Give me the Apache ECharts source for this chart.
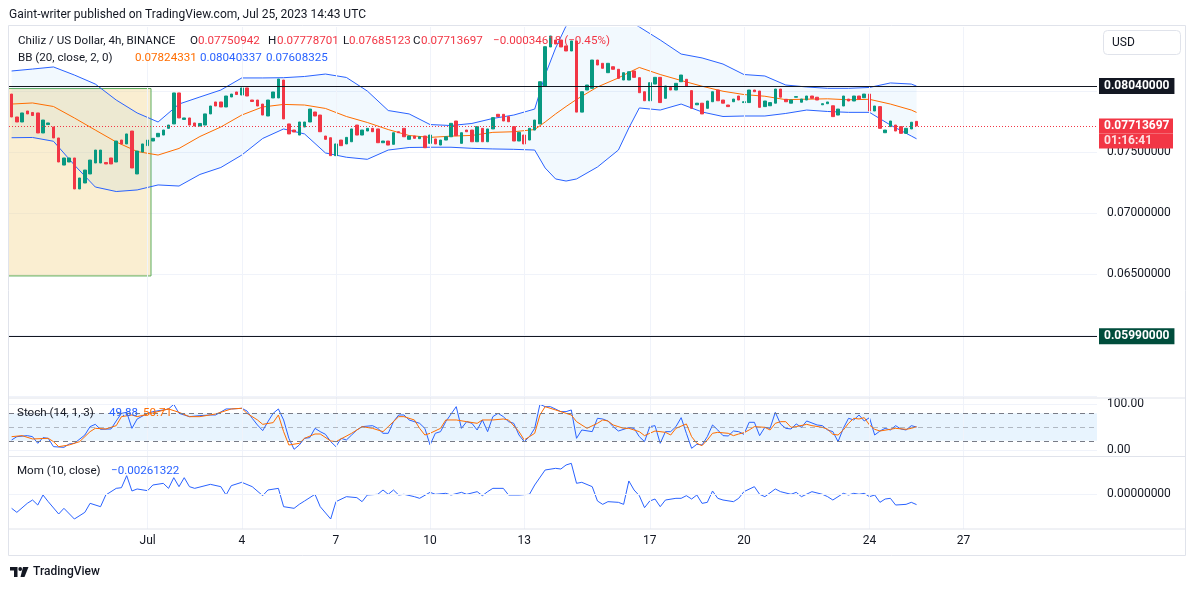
<!DOCTYPE html>
<html>
<head>
<meta charset="utf-8">
<title>CHZUSD 4h</title>
<script src="https://cdn.jsdelivr.net/npm/echarts@6/dist/echarts.min.js"></script>
<style>
  html, body { margin: 0; padding: 0; background: #fff; }
  #chart { width: 1195px; height: 589px; }
</style>
</head>
<body>
<div id="chart"></div>
<script>
// 4h candles, index 0 = Jun 26 16:00 UTC, last (173) = Jul 25 12:00
const candleOpen = [
  0.07975, 0.07787, 0.07746, 0.07836, 0.07824, 0.07820, 0.07656, 0.07725, 0.07705, 0.07615,
  0.07393, 0.07418, 0.07451, 0.07197, 0.07246, 0.07320, 0.07410, 0.07410, 0.07414, 0.07451,
  0.07418, 0.07598, 0.07566, 0.07672, 0.07320, 0.07500, 0.07552, 0.07590, 0.07625, 0.07639,
  0.07694, 0.07730, 0.07984, 0.07767, 0.07779, 0.07738, 0.07713, 0.07721, 0.07812, 0.07910,
  0.07910, 0.07869, 0.07951, 0.07992, 0.07967, 0.08025, 0.07926, 0.07926, 0.07893, 0.07795,
  0.07943, 0.07943, 0.08090, 0.07730, 0.07680, 0.07639, 0.07705, 0.07746, 0.07828, 0.07803,
  0.07631, 0.07617, 0.07470, 0.07598, 0.07566, 0.07584, 0.07721, 0.07639, 0.07672, 0.07694,
  0.07689, 0.07576, 0.07590, 0.07563, 0.07666, 0.07694, 0.07604, 0.07631, 0.07609, 0.07631,
  0.07571, 0.07607, 0.07557, 0.07598, 0.07625, 0.07754, 0.07571, 0.07680, 0.07680, 0.07584,
  0.07694, 0.07584, 0.07689, 0.07809, 0.07809, 0.07790, 0.07708, 0.07590, 0.07639, 0.07598,
  0.07680, 0.07730, 0.08041, 0.08361, 0.08418, 0.08418, 0.08369, 0.08328, 0.08410, 0.07827,
  0.08008, 0.08022, 0.08254, 0.08227, 0.08150, 0.08199, 0.08178, 0.08090, 0.08090, 0.08164,
  0.08109, 0.07994, 0.07920, 0.08057, 0.08112, 0.07940, 0.08030, 0.08008, 0.08076, 0.08096,
  0.08003, 0.07887, 0.07900, 0.07858, 0.07912, 0.08008, 0.07926, 0.07885, 0.07912, 0.07959,
  0.07905, 0.07905, 0.08008, 0.08000, 0.07872, 0.07879, 0.07900, 0.08016, 0.07932, 0.07900,
  0.07949, 0.07908, 0.07926, 0.07959, 0.07949, 0.07887, 0.07896, 0.07879, 0.07803, 0.07877,
  0.07934, 0.07918, 0.07959, 0.07945, 0.07975, 0.07836, 0.07872, 0.07658, 0.07708, 0.07721,
  0.07708, 0.07653, 0.07689, 0.07750942
];
const candleClose = [
  0.07787, 0.07746, 0.07820, 0.07812, 0.07799, 0.07656, 0.07762, 0.07738, 0.07615, 0.07418,
  0.07451, 0.07451, 0.07197, 0.07287, 0.07352, 0.07434, 0.07516, 0.07516, 0.07402, 0.07402,
  0.07590, 0.07566, 0.07648, 0.07369, 0.07508, 0.07566, 0.07598, 0.07612, 0.07653, 0.07680,
  0.07721, 0.07984, 0.07779, 0.07779, 0.07721, 0.07713, 0.07734, 0.07812, 0.07877, 0.07877,
  0.07869, 0.07959, 0.07975, 0.07971, 0.08025, 0.07959, 0.07914, 0.07877, 0.07803, 0.07926,
  0.07992, 0.08098, 0.07771, 0.07648, 0.07664, 0.07746, 0.07746, 0.07852, 0.07795, 0.07666,
  0.07604, 0.07470, 0.07566, 0.07552, 0.07620, 0.07689, 0.07639, 0.07680, 0.07694, 0.07666,
  0.07576, 0.07590, 0.07557, 0.07658, 0.07658, 0.07625, 0.07631, 0.07612, 0.07625, 0.07535,
  0.07639, 0.07566, 0.07598, 0.07625, 0.07735, 0.07634, 0.07658, 0.07666, 0.07584, 0.07708,
  0.07584, 0.07689, 0.07782, 0.07790, 0.07754, 0.07748, 0.07590, 0.07661, 0.07566, 0.07694,
  0.07762, 0.08076, 0.08363, 0.08451, 0.08385, 0.08361, 0.08328, 0.08410, 0.07827, 0.07994,
  0.08049, 0.08254, 0.08213, 0.08186, 0.08227, 0.08178, 0.08104, 0.08150, 0.08158, 0.08112,
  0.07986, 0.07920, 0.08068, 0.08112, 0.07905, 0.08041, 0.08008, 0.08063, 0.08131, 0.08041,
  0.07858, 0.07900, 0.07812, 0.07918, 0.07994, 0.07920, 0.07900, 0.07872, 0.07934, 0.07926,
  0.07912, 0.08008, 0.07994, 0.07866, 0.07918, 0.07905, 0.08016, 0.07949, 0.07912, 0.07926,
  0.07954, 0.07934, 0.07959, 0.07940, 0.07926, 0.07896, 0.07910, 0.07790, 0.07852, 0.07959,
  0.07918, 0.07959, 0.07934, 0.07975, 0.07836, 0.07877, 0.07694, 0.07680, 0.07754, 0.07672,
  0.07653, 0.07694, 0.07744, 0.07713697
];

// Bollinger bands (20, 2) read at these candle indices
const bbIdx = [0, 4, 8, 12, 16, 20, 24, 28, 32, 36, 40, 44, 48, 52, 56, 60, 64, 68, 72, 76,
  80, 84, 88, 92, 96, 100, 102, 104, 106, 108, 112, 116, 118, 120, 124, 128, 132, 136, 140, 144,
  148, 152, 156, 160, 164, 168, 172, 173];
const bbUpper = [0.08164, 0.08180, 0.08197, 0.08131, 0.08057, 0.07926, 0.07820, 0.07746, 0.07893, 0.07951,
  0.08008, 0.08107, 0.08107, 0.08109, 0.08119, 0.08139, 0.08111, 0.08000, 0.07840, 0.07812,
  0.07725, 0.07717, 0.07734, 0.07775, 0.07803, 0.07852, 0.08131, 0.08352, 0.08533, 0.08570,
  0.08600, 0.08580, 0.08570, 0.08525, 0.08418, 0.08303, 0.08271, 0.08221, 0.08135, 0.08123,
  0.08049, 0.08033, 0.08022, 0.08022, 0.08029, 0.08066, 0.08057, 0.08040337];
const bbMiddle = [0.07893, 0.07902, 0.07873, 0.07779, 0.07680, 0.07582, 0.07504, 0.07475, 0.07529, 0.07627,
  0.07705, 0.07803, 0.07869, 0.07890, 0.07885, 0.07857, 0.07791, 0.07742, 0.07684, 0.07635,
  0.07620, 0.07630, 0.07636, 0.07661, 0.07666, 0.07684, 0.07746, 0.07812, 0.07873, 0.07931,
  0.08033, 0.08107, 0.08152, 0.08193, 0.08135, 0.08086, 0.08039, 0.07998, 0.07971, 0.07957,
  0.07929, 0.07933, 0.07936, 0.07928, 0.07932, 0.07893, 0.07844, 0.07824331];
const bbLower = [0.07617, 0.07619, 0.07588, 0.07393, 0.07213, 0.07176, 0.07189, 0.07230, 0.07221, 0.07316,
  0.07373, 0.07475, 0.07611, 0.07689, 0.07648, 0.07492, 0.07457, 0.07440, 0.07516, 0.07537,
  0.07539, 0.07539, 0.07530, 0.07525, 0.07522, 0.07516, 0.07369, 0.07279, 0.07262, 0.07279,
  0.07377, 0.07516, 0.07697, 0.07861, 0.07844, 0.07893, 0.07828, 0.07791, 0.07795, 0.07795,
  0.07816, 0.07844, 0.07832, 0.07825, 0.07825, 0.07721, 0.07631, 0.07608325];

// Stoch (14, 1, 3): [candle index, value]
const stochK = [[0,21.8],[1,29],[3,31.2],[4,29],[5,14.5],[6,26.9],[7,25.4],[8,7.3],[10,5.8],[11,13.1],
  [12,14.5],[14,32.6],[15,50.8],[16,55.8],[17,45],[19,45.7],[20,63.1],[21,79.7],[22,81.9],[23,47.1],
  [24,67.4],[26,79.7],[27,83.4],[29,87],[30,89.2],[31,99.3],[32,79.7],[33,76.1],[34,72.5],[36,74.7],
  [38,76.1],[39,76.1],[41,89.2],[42,89.2],[44,90.6],[45,84.8],[46,68.9],[47,54.4],[48,42.1],[49,61.6],
  [50,79.7],[51,89.2],[52,65.3],[53,25.4],[54,1.5],[55,10.9],[56,25.4],[57,26.9],[58,47.1],[59,39.9],
  [60,34.1],[61,18.2],[62,7.3],[63,25.4],[64,21.8],[65,32.6],[66,43.5],[67,50.8],[69,52.9],[70,47.1],
  [71,36.3],[72,36.3],[73,61.6],[74,76.1],[75,76.1],[76,65.3],[78,58],[79,47.1],[80,10.9],[81,36.3],
  [82,39.9],[83,61.6],[85,94.2],[86,47.1],[87,61.6],[88,58],[89,43.5],[90,65.3],[91,39.9],[92,72.5],
  [93,79.7],[94,72.5],[95,61.6],[96,58],[97,32.6],[98,18.2],[99,29],[100,47.1],[101,99.3],[102,94.2],
  [103,94.2],[105,83.4],[106,83.4],[107,87],[108,25.4],[109,43.5],[111,39.9],[112,68.9],[113,67.4],[114,63.1],
  [115,50.8],[116,41.3],[118,48.6],[119,47.1],[120,29],[121,18.2],[122,50.8],[123,52.9],[124,14.5],[125,39.9],
  [126,39.9],[127,50.8],[128,70.3],[129,36.3],[130,3.7],[131,12.4],[132,10.9],[133,29],[134,54.4],[135,43.5],
  [136,31.2],[137,30.5],[138,41.3],[139,39.9],[140,34.1],[141,60.2],[142,60.2],[143,31.2],[144,49.3],[145,47.1],
  [146,81.9],[147,56.6],[148,47.1],[149,45.7],[150,56.6],[151,49.3],[152,63.1],[154,54.4],[155,52.9],[156,43.5],
  [157,39.9],[158,18.2],[159,47.1],[160,68.9],[161,65.3],[162,76.1],[163,63.1],[164,70.3],[165,32.6],[166,41.3],
  [167,47.1],[168,43.5],[169,52.9],[170,45.7],[171,43.5],[172,52.9],[173,49.88]];
const stochD = [[0,29],[2,31.2],[4,24],[7,25.4],[8,18.2],[9,7.3],[11,10.9],[13,18.2],[15,39.9],[16,47.1],
  [18,45.7],[20,52.9],[21,72.5],[23,76.1],[24,72.5],[26,77.6],[28,83.4],[30,89.2],[32,81.9],[34,72.5],
  [36,72.5],[39,78.3],[42,89.2],[44,90.6],[45,79.7],[47,65.3],[48,55.8],[50,59.5],[51,76.1],[52,39.9],
  [53,10.9],[55,14.5],[56,25.4],[58,34.8],[59,34.8],[61,19.6],[62,18.2],[65,36.3],[67,50.8],[69,47.1],
  [71,39.9],[72,50.8],[74,72.5],[75,72.5],[77,65.3],[78,47.1],[79,32.6],[80,36.3],[82,47.1],[83,65.3],
  [85,65.3],[87,61.6],[89,58],[90,65.3],[92,65.3],[94,67.4],[95,65.3],[97,39.9],[98,21.8],[100,36.3],
  [101,76.1],[102,94.2],[104,87],[106,79.7],[107,76.1],[108,61.6],[110,47.1],[112,58],[113,65.3],[114,63.1],
  [115,54.4],[117,47.1],[118,47.1],[120,39.9],[121,31.2],[122,36.3],[123,41.3],[125,38.4],[126,32.6],[127,47.1],
  [129,56.6],[130,29],[131,14.5],[132,9.5],[133,21.8],[134,36.3],[135,38.4],[137,36.3],[138,31.2],[139,34.8],
  [140,37.7],[141,43.5],[142,50.8],[144,49.3],[145,43.5],[146,58],[147,61.6],[148,61.6],[149,49.3],[150,50.8],
  [152,55.8],[153,52.9],[155,49.3],[156,45],[157,34.1],[158,32.6],[159,43.5],[160,58],[161,68.9],[162,67.4],
  [163,70.3],[164,54.4],[165,45],[166,41.3],[168,45],[169,47.1],[171,45],[172,47.1],[173,50.71]];

// Mom (10, close): [candle index, value]
const momVals = [[0,-0.00356],[1,-0.00458],[3,-0.00229],[4,-0.00145],[5,-0.00272],[6,-0.00018],[7,-0.00187],
  [9,-0.00500],[10,-0.00356],[12,-0.00627],[14,-0.00458],[15,-0.00229],[17,-0.00314],[18,-0.00018],[20,0.00151],
  [21,0.00168],[22,0.00473],[23,0.00084],[24,0.00135],[26,0.00092],[27,0.00236],[29,0.00278],[30,0.00151],
  [31,0.00422],[32,0.00194],[33,0.00422],[34,0.00194],[35,0.00151],[38,0.00253],[40,0.00194],[41,-0.00018],
  [42,0.00219],[44,0.00304],[46,0.00194],[48,-0.00035],[49,0.00109],[51,0.00151],[52,-0.00314],[54,-0.00356],
  [55,-0.00254],[56,-0.00170],[58,0],[59,-0.00314],[61,-0.00627],[62,-0.00187],[64,-0.00060],[66,-0.00085],
  [67,-0.00187],[68,-0.00018],[70,0],[71,0.00109],[72,0],[73,0.00109],[74,-0.00018],[75,0],[77,-0.00060],
  [78,-0.00102],[80,0.00050],[81,0],[83,0.00025],[84,-0.00018],[86,0.00050],[87,0],[89,0.00067],[90,-0.00035],
  [91,0.00067],[92,0.00151],[94,0.00151],[95,-0.00018],[97,-0.00018],[99,0],[100,0.00236],[102,0.00617],
  [104,0.00659],[105,0.00642],[106,0.00744],[107,0.00786],[108,0.00279],[109,0.00304],[111,0.00194],[112,-0.00170],
  [113,-0.00255],[114,-0.00187],[116,-0.00204],[117,-0.00255],[118,0.00338],[119,0.00109],[120,-0.00035],
  [121,-0.00339],[122,-0.00170],[123,-0.00120],[124,-0.00314],[125,-0.00145],[127,-0.00102],[128,-0.00102],
  [129,-0.00035],[130,-0.00120],[131,-0.00018],[132,-0.00230],[133,-0.00204],[134,0.00084],[135,-0.00102],
  [136,-0.00145],[138,-0.00187],[139,-0.00102],[140,0.00067],[142,0.00194],[143,0],[144,-0.00060],[146,0.00135],
  [147,0.00067],[149,0],[150,0.00050],[151,-0.00060],[153,0.00067],[155,0],[156,-0.00060],[157,-0.00145],
  [159,0.00025],[160,-0.00018],[161,0.00025],[162,0],[163,0.00025],[164,-0.00060],[165,-0.00018],[166,-0.00204],
  [167,-0.00120],[168,-0.00102],[169,-0.00272],[171,-0.00255],[172,-0.00204],[173,-0.00261322]];

// drawn levels and the highlighted zone: [left idx, top price, right idx, bottom price]
const levelHigh = 0.0804;
const levelLow = 0.0599;
const lastClose = 0.07713697;
const zoneBox = [-1, 0.0802, 26.65, 0.06484];

// time axis ticks (candle index of each day start) and price labels
const dateTickIdx = [26, 44, 62, 80, 98, 122, 140, 164, 182];
const dateTickLabels = ['Jul', '4', '7', '10', '13', '17', '20', '24', '27'];
const priceTickLabels = ['0.07500000', '0.07000000', '0.06500000'];
const stochTicks = [0, 100];
const momTicks = [0];

const SLOTS = 208;
const FONT = 'Roboto, "Noto Sans", sans-serif';
const LEGEND_FONT = '11.6px ' + FONT;
const TXT = '#131722';
const BLUE = '#2962ff';
const ORANGE = '#ff6d00';
const UP = '#089981';
const DOWN = '#f23645';
const GRID = '#f0f3fa';
const BORDER = '#e0e3eb';

const candles = candleOpen.map((o, i) => {
  const c = candleClose[i];
  return [i, o, c, Math.min(o, c), Math.max(o, c)];
});
const pairs = (idx, vals) => idx.map((x, k) => [x, vals[k]]);
const dateLines = dateTickIdx.map(v => ({ xAxis: v }));

const xBase = { type: 'value', min: -0.5, max: SLOTS - 0.5 };
const noAxisParts = { axisLine: { show: false }, axisTick: { show: false }, splitLine: { show: false } };
const labelBase = { color: TXT, fontSize: 12, fontFamily: FONT, margin: 10 };
const tagLabel = {
  show: true, position: 'end', distance: 2, color: '#fff', fontFamily: FONT,
  fontSize: 12, fontWeight: 'bold', padding: [1, 5], lineHeight: 14
};

function txt(x, y, text, fill, font) {
  return { type: 'text', x: x, y: y, silent: true, z: 100,
    style: { text: text, fill: fill, font: font || ('12px ' + FONT), verticalAlign: 'middle' } };
}
function hline(y, x1, x2) {
  return { type: 'line', silent: true, z: 100, shape: { x1: x1, y1: y, x2: x2, y2: y },
    style: { stroke: BORDER, lineWidth: 1 } };
}
// one horizontal price level with its tag on the price scale
function levelLine(name, value, lineStyle, label) {
  return {
    type: 'line', name: name, xAxisIndex: 0, yAxisIndex: 0, z: 4, silent: true,
    data: [], showSymbol: false,
    markLine: {
      silent: true, symbol: ['none', 'none'], animation: false, precision: 10,
      lineStyle: lineStyle,
      label: Object.assign({}, tagLabel, label),
      data: [{ yAxis: value }]
    }
  };
}

const chart = echarts.init(document.getElementById('chart'));

const option = {
  animation: false,
  backgroundColor: '#ffffff',
  grid: [
    { left: 9, width: 1088, top: 27, height: 430, outerBoundsMode: 'none' },
    { left: 9, width: 1088, top: 398, height: 58.5, outerBoundsMode: 'none' },
    { left: 9, width: 1088, top: 456.5, height: 72.5, outerBoundsMode: 'none' }
  ],
  xAxis: [
    Object.assign({}, xBase, { gridIndex: 0, show: false }),
    Object.assign({}, xBase, { gridIndex: 1, show: false }),
    Object.assign({}, xBase, noAxisParts, {
      gridIndex: 2,
      axisLabel: Object.assign({}, labelBase, {
        margin: 6,
        customValues: dateTickIdx,
        formatter: v => {
          const k = dateTickIdx.indexOf(Math.round(v));
          return k >= 0 ? dateTickLabels[k] : '';
        }
      })
    })
  ],
  yAxis: [
    {
      gridIndex: 0, type: 'value', position: 'right',
      min: 0.05, max: 0.085246, interval: 0.005,
      axisLine: { show: false }, axisTick: { show: false },
      axisLabel: Object.assign({}, labelBase, {
        formatter: v => {
          const s = v.toFixed(8);
          return priceTickLabels.indexOf(s) >= 0 ? s : '';
        }
      }),
      splitLine: { show: true, lineStyle: { color: ['transparent', GRID, GRID, GRID, GRID, GRID, GRID, 'transparent'], width: 1 } }
    },
    Object.assign({ gridIndex: 1, type: 'value', position: 'right', min: -14.13, max: 113.04 }, noAxisParts, {
      axisLabel: Object.assign({}, labelBase, { customValues: stochTicks, formatter: v => v.toFixed(2) })
    }),
    Object.assign({ gridIndex: 2, type: 'value', position: 'right', min: -0.008807, max: 0.009594 }, noAxisParts, {
      axisLabel: Object.assign({}, labelBase, { customValues: momTicks, formatter: v => v.toFixed(8) })
    })
  ],
  series: [
    {
      type: 'custom', name: 'zone', xAxisIndex: 0, yAxisIndex: 0, z: 1, silent: true, clip: true,
      data: [zoneBox], encode: { x: [0, 2], y: [1, 3] },
      renderItem: (params, api) => {
        const a = api.coord([api.value(0), api.value(1)]);
        const b = api.coord([api.value(2), api.value(3)]);
        return {
          type: 'rect',
          shape: { x: a[0], y: a[1], width: b[0] - a[0], height: b[1] - a[1] },
          style: { fill: 'rgba(242,213,140,0.40)', stroke: '#5cad5c', lineWidth: 1 }
        };
      }
    },
    {
      type: 'custom', name: 'bbFill', xAxisIndex: 0, yAxisIndex: 0, z: 1, silent: true, clip: true,
      data: [[bbIdx[0], bbMiddle[0]]],
      renderItem: (params, api) => {
        const pts = bbIdx.map((x, k) => api.coord([x, bbUpper[k]]));
        for (let k = bbIdx.length - 1; k >= 0; k--) pts.push(api.coord([bbIdx[k], bbLower[k]]));
        return { type: 'polygon', shape: { points: pts }, style: { fill: 'rgba(33,150,243,0.06)' } };
      }
    },
    {
      type: 'line', name: 'BB upper', xAxisIndex: 0, yAxisIndex: 0, z: 2, silent: true,
      data: pairs(bbIdx, bbUpper), showSymbol: false, lineStyle: { color: BLUE, width: 1 },
      markLine: {
        silent: true, symbol: ['none', 'none'], label: { show: false },
        lineStyle: { color: GRID, width: 1, type: 'solid' }, data: dateLines
      }
    },
    {
      type: 'line', name: 'BB lower', xAxisIndex: 0, yAxisIndex: 0, z: 2, silent: true,
      data: pairs(bbIdx, bbLower), showSymbol: false, lineStyle: { color: BLUE, width: 1 }
    },
    {
      type: 'line', name: 'BB basis', xAxisIndex: 0, yAxisIndex: 0, z: 2, silent: true,
      data: pairs(bbIdx, bbMiddle), showSymbol: false, lineStyle: { color: ORANGE, width: 1 }
    },
    {
      type: 'candlestick', name: 'CHZUSD', xAxisIndex: 0, yAxisIndex: 0, z: 3, silent: true,
      data: candles, barWidth: 3,
      itemStyle: { color: UP, color0: DOWN, borderColor: UP, borderColor0: DOWN, borderWidth: 1 }
    },
    levelLine('level high', levelHigh, { color: TXT, width: 1, type: 'solid' },
      { formatter: levelHigh.toFixed(8), backgroundColor: '#131722' }),
    levelLine('level low', levelLow, { color: TXT, width: 1, type: 'solid' },
      { formatter: levelLow.toFixed(8), backgroundColor: '#004d3c' }),
    levelLine('last price', lastClose, { color: DOWN, width: 1, type: [1, 2] }, {
      formatter: '{e| }\n{a|' + lastClose.toFixed(8) + '}\n{b|01:16:41}',
      padding: 0, backgroundColor: 'transparent',
      rich: {
        e: { height: 15, lineHeight: 15 },
        a: { height: 15, lineHeight: 15, width: 64, padding: [0, 5], backgroundColor: DOWN,
          color: '#fff', fontWeight: 'bold', fontSize: 12, fontFamily: FONT },
        b: { height: 15, lineHeight: 15, width: 64, padding: [0, 5], backgroundColor: DOWN,
          color: 'rgba(255,255,255,0.85)', fontWeight: 'bold', fontSize: 12, fontFamily: FONT }
      }
    }),
    {
      type: 'line', name: '%K', xAxisIndex: 1, yAxisIndex: 1, z: 3, silent: true,
      data: stochK, showSymbol: false, lineStyle: { color: BLUE, width: 1 },
      markArea: { silent: true, itemStyle: { color: 'rgba(33,150,243,0.1)' }, data: [[{ yAxis: 20 }, { yAxis: 80 }]] },
      markLine: {
        silent: true, symbol: ['none', 'none'], label: { show: false },
        data: [
          { yAxis: 100, lineStyle: { color: GRID, width: 1, type: 'solid' } },
          { yAxis: 0, lineStyle: { color: GRID, width: 1, type: 'solid' } },
          { yAxis: 80, lineStyle: { color: '#787b86', width: 1, type: [5, 4] } },
          { yAxis: 50, lineStyle: { color: 'rgba(120,123,134,0.5)', width: 1, type: [5, 4] } },
          { yAxis: 20, lineStyle: { color: '#787b86', width: 1, type: [5, 4] } }
        ]
      }
    },
    {
      type: 'line', name: '%D', xAxisIndex: 1, yAxisIndex: 1, z: 3, silent: true,
      data: stochD, showSymbol: false, lineStyle: { color: ORANGE, width: 1 }
    },
    {
      type: 'line', name: 'Mom', xAxisIndex: 2, yAxisIndex: 2, z: 3, silent: true,
      data: momVals, showSymbol: false, lineStyle: { color: BLUE, width: 1 },
      markLine: {
        silent: true, symbol: ['none', 'none'], label: { show: false },
        lineStyle: { color: GRID, width: 1, type: 'solid' },
        data: dateLines.concat([{ yAxis: 0 }])
      }
    }
  ],
  graphic: [
    txt(9, 15, 'Gaint-writer published on TradingView.com, Jul 25, 2023 14:43 UTC', TXT),
    { type: 'rect', silent: true, z: 100, shape: { x: 8.5, y: 25.5, width: 1177, height: 530 },
      style: { fill: 'none', stroke: BORDER, lineWidth: 1 } },
    hline(398, 9, 1185),
    hline(456.5, 9, 1185),
    hline(529, 9, 1185),

    txt(18, 41, 'Chiliz / US Dollar, 4h, BINANCE', TXT, LEGEND_FONT),
    txt(190, 41, 'O', TXT, LEGEND_FONT), txt(198, 41, '0.07750942', DOWN, LEGEND_FONT),
    txt(268, 41, 'H', TXT, LEGEND_FONT), txt(277, 41, '0.07778701', DOWN, LEGEND_FONT),
    txt(343, 41, 'L', TXT, LEGEND_FONT), txt(349, 41, '0.07685123', DOWN, LEGEND_FONT),
    txt(413, 41, 'C', TXT, LEGEND_FONT), txt(421, 41, '0.07713697', DOWN, LEGEND_FONT),
    txt(493, 41, '\u22120.00034618 (\u22120.45%)', DOWN, LEGEND_FONT),
    txt(18, 58, 'BB (20, close, 2, 0)', TXT, LEGEND_FONT),
    txt(135, 58, '0.07824331', ORANGE, LEGEND_FONT),
    txt(200, 58, '0.08040337', BLUE, LEGEND_FONT),
    txt(266, 58, '0.07608325', BLUE, LEGEND_FONT),

    txt(17, 413, 'Stoch (14, 1, 3)', TXT, LEGEND_FONT),
    txt(109, 413, '49.88', BLUE, LEGEND_FONT),
    txt(143, 413, '50.71', ORANGE, LEGEND_FONT),
    txt(17, 471, 'Mom (10, close)', TXT, LEGEND_FONT),
    txt(111, 471, '\u22120.00261322', BLUE, LEGEND_FONT),

    { type: 'rect', silent: true, z: 100, shape: { x: 1103.5, y: 30.5, width: 77, height: 24, r: 4 },
      style: { fill: '#fff', stroke: BORDER, lineWidth: 1 } },
    txt(1112, 43, 'USD', TXT),

    { type: 'polygon', silent: true, z: 100,
      shape: { points: [[10, 567], [17.5, 567], [17.5, 577], [14, 577], [14, 570.5], [10, 570.5]] },
      style: { fill: TXT } },
    { type: 'circle', silent: true, z: 100, shape: { cx: 20.2, cy: 569, r: 1.9 }, style: { fill: TXT } },
    { type: 'polygon', silent: true, z: 100,
      shape: { points: [[23, 567], [28.5, 567], [24.5, 577], [20.5, 577]] },
      style: { fill: TXT } },
    txt(33, 572, 'TradingView', TXT, '500 12px ' + FONT)
  ]
};

chart.setOption(option);
</script>
</body>
</html>
